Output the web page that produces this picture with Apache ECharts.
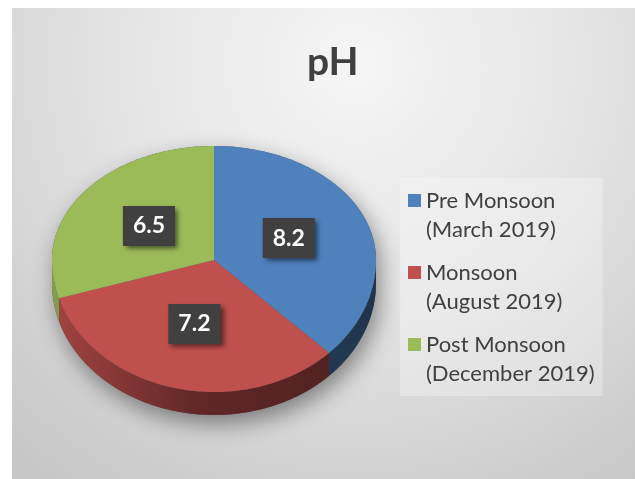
<!DOCTYPE html>
<html>
<head>
<meta charset="utf-8">
<script src="https://cdn.jsdelivr.net/npm/echarts@6/dist/echarts.min.js"></script>
<style>
html, body { margin: 0; padding: 0; background: #fff; }
#chart { position: absolute; left: 12px; top: 8px; width: 623px; height: 471px; }
</style>
</head>
<body>
<div id="chart"></div>
<script>
// data
var categories = ['Pre Monsoon\n(March 2019)', 'Monsoon\n(August 2019)', 'Post Monsoon\n(December 2019)'];
var phValues = [8.2, 7.2, 6.5];
var sliceColors = ['#4f81bd', '#c0504d', '#9bbb59'];

// pie geometry (tilted ellipse, front half a bit taller)
var CX = 202, CY = 252, RX = 162, RY_TOP = 114, RY_BOT = 132, DEPTH = 23;

var total = phValues.reduce(function (s, v) { return s + v; }, 0);
var startDeg = [];
var acc = 0;
phValues.forEach(function (v) {
    startDeg.push(acc / total * 360);
    acc += v;
});

function pt(deg, r, dy) {
    var a = deg * Math.PI / 180;
    var c = Math.cos(a);
    return [CX + r * RX * Math.sin(a), CY - r * c * (c > 0 ? RY_TOP : RY_BOT) + (dy || 0)];
}
function arc(a0, a1, dy) {
    var pts = [];
    var n = Math.max(2, Math.ceil(Math.abs(a1 - a0)));
    for (var i = 0; i <= n; i++) {
        pts.push(pt(a0 + (a1 - a0) * i / n, 1, dy));
    }
    return pts;
}
function shade(hex, f) {
    var n = parseInt(hex.slice(1), 16);
    var r = Math.round(((n >> 16) & 255) * f);
    var g = Math.round(((n >> 8) & 255) * f);
    var b = Math.round((n & 255) * f);
    return 'rgb(' + r + ',' + g + ',' + b + ')';
}

function renderSlice(params, api) {
    var v = api.value(0);
    var a0 = api.value(1);
    var a1 = a0 + v / total * 360;
    var color = api.visual('color');
    var children = [];
    // visible side wall = part of slice between 90 and 270 deg
    var s0 = Math.max(a0, 90), s1 = Math.min(a1, 270);
    if (s1 > s0) {
        children.push({
            type: 'polygon',
            shape: { points: arc(s0, s1, 0).concat(arc(s1, s0, DEPTH)) },
            style: {
                fill: {
                    type: 'linear', global: true,
                    x: CX - RX, y: 0, x2: CX + RX, y2: 0,
                    colorStops: [
                        { offset: 0, color: shade(color, 0.85) },
                        { offset: 0.45, color: shade(color, 0.5) },
                        { offset: 1, color: shade(color, 0.4) }
                    ]
                }
            }
        });
    }
    children.push({
        type: 'polygon',
        shape: { points: [pt(0, 0)].concat(arc(a0, a1, 0)) },
        style: { fill: color }
    });
    var lp = pt((a0 + a1) / 2, 0.5);
    children.push({
        type: 'text',
        x: lp[0], y: lp[1],
        style: {
            text: String(v),
            align: 'center', verticalAlign: 'middle',
            fill: '#fff',
            font: 'bold 23px Lato',
            backgroundColor: '#404040',
            padding: [9, 10, 8, 10],
            shadowBlur: 5, shadowColor: 'rgba(0,0,0,0.55)',
            shadowOffsetX: 3, shadowOffsetY: 3
        }
    });
    return { type: 'group', children: children };
}

function renderBase() {
    return {
        type: 'polygon',
        shape: { points: arc(-90, 90, 0).concat(arc(90, 270, DEPTH)) },
        style: {
            fill: '#555',
            shadowBlur: 22, shadowColor: 'rgba(0,0,0,0.42)',
            shadowOffsetX: 4, shadowOffsetY: 9
        }
    };
}

var series = [{
    type: 'custom',
    name: 'base',
    coordinateSystem: 'none',
    silent: true,
    data: [[0]],
    renderItem: renderBase
}];
categories.forEach(function (name, i) {
    series.push({
        type: 'custom',
        name: name,
        coordinateSystem: 'none',
        itemStyle: { color: sliceColors[i] },
        data: [[phValues[i], startDeg[i]]],
        renderItem: renderSlice
    });
});

var myChart = echarts.init(document.getElementById('chart'));
myChart.setOption({
    animation: false,
    backgroundColor: {
        type: 'radial', x: 0.55, y: 0.12, r: 1.1,
        colorStops: [
            { offset: 0, color: '#f6f6f6' },
            { offset: 0.5, color: '#e2e2e2' },
            { offset: 1, color: '#c6c6c6' }
        ]
    },
    title: {
        text: 'pH',
        left: 290, top: 30,
        textStyle: { fontSize: 39, fontWeight: 'bold', color: '#404040', fontFamily: 'Lato' }
    },
    legend: {
        data: categories,
        orient: 'vertical',
        left: 388, top: 170,
        padding: [8, 8, 8, 8],
        itemWidth: 13, itemHeight: 42, itemGap: 14,
        icon: 'path://M0,0H13V13H0Z M0,41.99H0.01V42H0Z',
        backgroundColor: 'rgba(255,255,255,0.28)',
        textStyle: { color: '#404040', fontSize: 22, lineHeight: 29, fontFamily: 'Lato' }
    },
    series: series
});
</script>
</body>
</html>
